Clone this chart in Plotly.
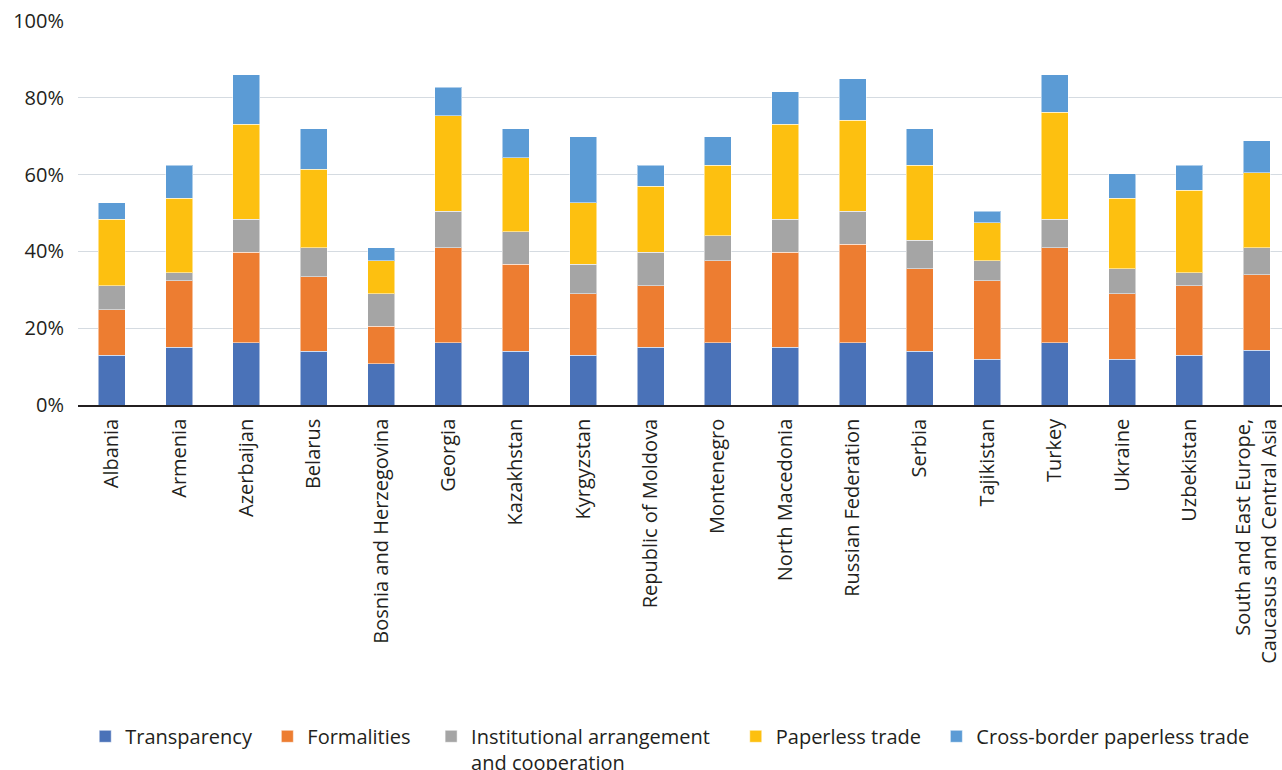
import plotly.graph_objects as go

categories = ["Albania", "Armenia", "Azerbaijan", "Belarus", "Bosnia and Herzegovina",
              "Georgia", "Kazakhstan", "Kyrgyzstan", "Republic of Moldova", "Montenegro",
              "North Macedonia", "Russian Federation", "Serbia", "Tajikistan", "Turkey",
              "Ukraine", "Uzbekistan", "South and East Europe,<br>Caucasus and Central Asia"]

transparency = [12.9, 15.0, 16.2, 14.0, 10.8, 16.2, 14.0, 12.9, 15.0, 16.2,
                15.0, 16.2, 14.0, 11.9, 16.2, 11.9, 12.9, 14.2]
formalities = [11.9, 17.3, 23.6, 19.4, 9.7, 24.7, 22.6, 16.1, 16.1, 21.4,
               24.8, 25.7, 21.5, 20.4, 24.7, 17.1, 18.2, 19.7]
institutional = [6.2, 2.1, 8.6, 7.5, 8.5, 9.6, 8.5, 7.6, 8.7, 6.5,
                 8.6, 8.6, 7.4, 5.3, 7.5, 6.5, 3.3, 7.0]
paperless = [17.4, 19.4, 24.7, 20.5, 8.6, 24.8, 19.3, 16.1, 17.2, 18.4,
             24.7, 23.7, 19.6, 9.8, 27.9, 18.3, 21.5, 19.6]
crossborder = [4.3, 8.6, 12.9, 10.5, 3.4, 7.4, 7.5, 17.2, 5.4, 7.4,
               8.5, 10.7, 9.4, 3.1, 9.7, 6.4, 6.5, 8.3]

NB = "\u00a0\u00a0"
series_names = ["Transparency" + NB, "Formalities" + NB + "\u00a0",
                "Institutional arrangement" + NB + "\u00a0\u00a0<br>and cooperation",
                "Paperless trade" + NB, "Cross-border paperless trade" + NB]
series_values = [transparency, formalities, institutional, paperless, crossborder]
colors = ["#4a72b8", "#ed7d31", "#a5a5a5", "#fdc010", "#5b9bd5"]

FONT = "Open Sans"
TXT = "#231f20"

fig = go.Figure()
for name, vals, col in zip(series_names, series_values, colors):
    fig.add_trace(go.Bar(
        x=list(range(len(categories))), y=vals, name=name,
        marker=dict(color=col, line=dict(color="rgba(255,255,255,0.5)", width=1)),
        width=0.4,
    ))

fig.update_layout(
    barmode="stack",
    width=1282, height=770,
    margin=dict(l=78, r=0, t=21, b=365, autoexpand=False),
    paper_bgcolor="white", plot_bgcolor="white",
    font=dict(family=FONT, size=20, color=TXT),
    legend=dict(orientation="h", x=0.006, xanchor="left", y=-0.812, yanchor="top",
                valign="top", font=dict(size=20, color=TXT), traceorder="normal",
                itemclick=False, tracegroupgap=0),
    showlegend=True,
)
fig.update_xaxes(
    tickmode="array", tickvals=list(range(len(categories))), ticktext=categories,
    range=[-0.5, 17.375], tickangle=-90, showgrid=False,
    showline=True, linecolor="#231f20", linewidth=1.5,
    ticks="", ticklabelstandoff=4, ticklabeloverflow="allow",
    tickfont=dict(size=20, color=TXT),
)
fig.update_yaxes(
    range=[0, 100], tickvals=[0, 20, 40, 60, 80, 100],
    ticktext=["0%", "20%", "40%", "60%", "80%", "100%"],
    showgrid=True, gridcolor="#d5dbe1", gridwidth=1.3,
    zeroline=False, showline=False, ticks="", ticklabelstandoff=13,
    tickfont=dict(size=20, color=TXT),
)

fig.write_html("out.html", config={"displayModeBar": False},
               post_script="document.body.style.margin='0px';document.body.style.overflow='hidden';")
